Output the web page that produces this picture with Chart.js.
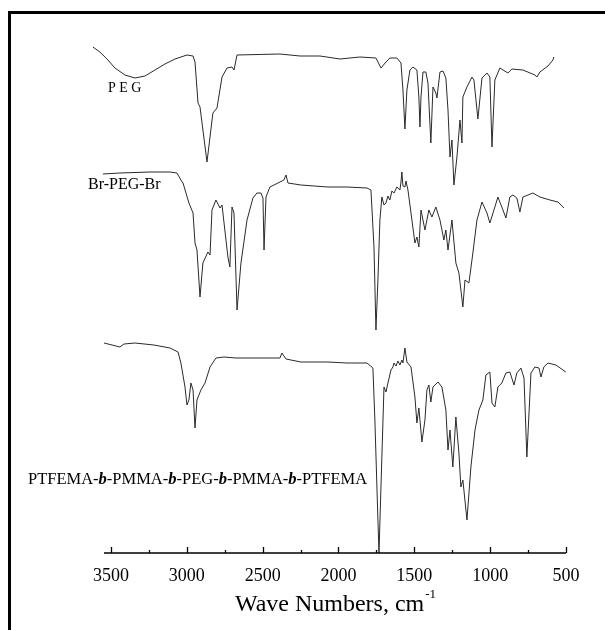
<!DOCTYPE html>
<html><head><meta charset="utf-8">
<script src="https://cdn.jsdelivr.net/npm/chart.js@4/dist/chart.umd.min.js"></script>
<style>
html,body{margin:0;padding:0;background:#fff;}
#wrap{position:relative;width:605px;height:630px;overflow:hidden;background:#fff;}
#frame{position:absolute;left:8px;top:11px;right:-10px;bottom:-10px;border-left:3px solid #000;border-top:3px solid #000;pointer-events:none;}
canvas{position:absolute;left:0;top:0;}
</style></head><body>
<div id="wrap"><canvas id="c" width="605" height="630"></canvas><div id="frame"></div></div>
<script>
// ---- data (wavenumber, cm-1 ; transmittance, arbitrary units with vertical offsets) ----
const pegWn = [3619,3573,3520,3474,3408,3342,3276,3210,3144,3078,2999,2959,2946,2926,2913,2867,2828,2801,2768,2735,2702,2689,2669,2386,2254,2122,1990,1859,1753,1720,1687,1661,1615,1588,1575,1562,1549,1529,1509,1483,1470,1463,1456,1443,1424,1410,1391,1377,1358,1351,1331,1311,1292,1278,1265,1252,1239,1219,1199,1186,1180,1153,1120,1107,1081,1054,1021,1002,988,969,936,883,857,784,705,692,672,619,586,580];
const pegT = [101.2,100.2,98.6,97,95.6,95,95.4,96.6,97.8,98.8,99.6,99.4,98.2,90,89.2,78.2,88,89,95.2,97,97.2,96.6,99.6,99.8,99.4,99.4,98.8,99.2,99,97,98.2,99,99,98,92.6,84.8,92.6,96.6,97.2,96.6,91.2,85.2,91.2,96.2,96.2,94,82,93.2,92,91,96.2,96.4,95,88.6,79.2,82.6,73.6,79.2,86.6,82,91.2,93.2,95.2,94.6,86.8,95,96,95.2,81.2,94.6,97,96,96.8,96.6,95.6,95.2,96.2,97.4,98.6,99.2];

const brWn = [3553,3441,3243,3111,3065,3039,3025,2986,2959,2946,2933,2913,2894,2861,2847,2834,2808,2781,2768,2729,2716,2702,2689,2669,2643,2603,2564,2538,2511,2498,2491,2478,2452,2399,2360,2346,2333,2248,2070,1944,1812,1786,1766,1753,1740,1727,1714,1700,1687,1674,1661,1648,1634,1615,1595,1588,1582,1575,1562,1555,1542,1522,1496,1483,1470,1456,1430,1404,1384,1358,1331,1305,1292,1278,1252,1226,1206,1180,1166,1140,1114,1087,1054,1021,1002,969,949,923,896,870,850,824,804,784,751,718,672,606,553,514];
const brT = [75.8,76,76.2,76.2,76,74.6,74,70,68,62,60.6,51.2,58,60.2,59.6,68.6,70.6,69,69.6,59.2,57.2,69.2,68,48.6,58,66.6,71,72,72,71,60.6,71.2,73.2,74,74.6,75.6,74,73.6,73.2,73.2,73,72.6,61.2,44.6,54.6,66.6,71.2,69.6,70,71.4,70.6,72.4,72,73.2,72.6,74.2,76.2,73.4,73.2,74.4,72.6,68,62,63.2,61.2,68.6,64.6,68.6,67.2,69.2,66.6,62.6,64.6,60.6,66.6,58,56,49.2,54.6,54,60,66.6,70.2,68,66,69.2,71.2,69.2,67,71.2,71.6,71,68.2,71.2,71.6,72,71.2,70.6,70.2,69];

const copWn = [3546,3493,3441,3414,3342,3217,3111,3058,3039,3012,2999,2986,2973,2959,2946,2933,2907,2880,2847,2808,2755,2676,2603,2452,2386,2373,2346,2248,2070,1944,1812,1773,1760,1740,1733,1720,1700,1687,1674,1654,1641,1634,1621,1608,1595,1582,1575,1562,1549,1522,1496,1483,1470,1450,1430,1417,1404,1391,1377,1344,1318,1292,1278,1265,1246,1226,1206,1193,1180,1153,1127,1100,1074,1048,1028,1002,988,969,949,923,896,870,843,824,797,777,758,731,705,678,665,646,619,567,501];
const copT = [42,41.6,41.2,41.8,42,41.6,41,40.2,38,33.2,29.6,30.6,34,32.6,25,30.6,32.6,34,37.2,39,39.2,39,39,39,39,40,38.8,38.2,38.2,38,38,37,26.6,6.6,0,13.2,33.2,32.2,34,36.6,37.2,38,37.4,38.4,37.6,38.6,38,41,38.2,37.2,31.2,26,29,22.2,26.6,32.6,33.6,30.2,33.2,34.2,33.2,28.6,20.6,24.6,17.2,27.2,20,13.2,14.6,6.6,17.2,24.6,28.6,30.6,35.6,36.2,30,29.2,33.2,34,36,36.2,33.6,36,37,35,19.2,36,37.2,37,35.2,37.2,38,37.6,36.2];

const seriesNames = ['PEG', 'Br-PEG-Br', 'PTFEMA-b-PMMA-b-PEG-b-PMMA-b-PTFEMA'];
const majorTicks = [3500, 3000, 2500, 2000, 1500, 1000, 500];
const minorTicks = [3250, 2750, 2250, 1750, 1250, 750];
const xMin = 500, xMax = 3546;
const axisTitle = 'Wave Numbers, cm';
const axisTitleSup = '-1';

function pts(xs, ys){ return xs.map((x,i)=>({x:x, y:ys[i]})); }

const SERIF = '"Liberation Serif", "Times New Roman", serif';

const axisPlugin = {
  id: 'axisDraw',
  afterDraw(chart){
    const ctx = chart.ctx, xs = chart.scales.x, ca = chart.chartArea;
    ctx.save();
    ctx.strokeStyle = '#000';
    ctx.lineWidth = 1.5;
    ctx.beginPath();
    ctx.moveTo(ca.left, ca.bottom);
    ctx.lineTo(ca.right, ca.bottom);
    ctx.stroke();
    ctx.lineWidth = 1.3;
    majorTicks.forEach(v=>{
      const px = Math.round(xs.getPixelForValue(v)) + 0.5;
      ctx.beginPath(); ctx.moveTo(px, ca.bottom); ctx.lineTo(px, ca.bottom - 6); ctx.stroke();
    });
    minorTicks.forEach(v=>{
      const px = Math.round(xs.getPixelForValue(v)) + 0.5;
      ctx.beginPath(); ctx.moveTo(px, ca.bottom); ctx.lineTo(px, ca.bottom - 3); ctx.stroke();
    });
    // axis title with superscript
    ctx.fillStyle = '#000';
    ctx.textBaseline = 'alphabetic';
    ctx.font = '24px ' + SERIF;
    const w1 = ctx.measureText(axisTitle).width;
    ctx.font = '13px ' + SERIF;
    const w2 = ctx.measureText(axisTitleSup).width;
    const cx = (ca.left + ca.right) / 2;
    const x0 = cx - (w1 + w2) / 2;
    ctx.font = '24px ' + SERIF;
    ctx.fillText(axisTitle, x0, 611);
    ctx.font = '13px ' + SERIF;
    ctx.fillText(axisTitleSup, x0 + w1 + 1, 598);

    // series labels
    ctx.textBaseline = 'middle';
    // PEG (letter spaced)
    ctx.font = '14px ' + SERIF;
    let x = 108;
    for (const ch of seriesNames[0]) { ctx.fillText(ch, x, 88); x += ctx.measureText(ch).width + 3.5; }
    // Br-PEG-Br
    ctx.font = '16px ' + SERIF;
    ctx.fillText(seriesNames[1], 88, 185);
    // block copolymer with bold-italic b
    const parts = seriesNames[2].split('-');
    x = 28;
    const yL = 480;
    parts.forEach((p, i) => {
      const isB = p === 'b';
      ctx.font = (isB ? 'italic bold ' : '') + '16.5px ' + SERIF;
      ctx.fillText(p, x, yL); x += ctx.measureText(p).width;
      if (i < parts.length - 1) { ctx.font = '16.5px ' + SERIF; ctx.fillText('-', x, yL); x += ctx.measureText('-').width; }
    });
    ctx.restore();
  }
};

const lineStyle = {borderColor:'#2a2a2a', borderWidth:1, pointRadius:0, tension:0, fill:false, clip:false};

new Chart(document.getElementById('c'), {
  type: 'line',
  data: {
    datasets: [
      Object.assign({label: seriesNames[0], data: pts(pegWn, pegT)}, lineStyle),
      Object.assign({label: seriesNames[1], data: pts(brWn, brT)}, lineStyle),
      Object.assign({label: seriesNames[2], data: pts(copWn, copT)}, lineStyle)
    ]
  },
  options: {
    responsive: false,
    animation: false,
    parsing: true,
    layout: {padding: {left: 104, right: 39, top: 28, bottom: 0}},
    plugins: {legend: {display: false}, tooltip: {enabled: false}, title: {display: false}},
    scales: {
      x: {
        type: 'linear', reverse: true, min: xMin, max: xMax,
        afterBuildTicks: s => { s.ticks = majorTicks.map(v => ({value: v})); },
        afterFit: s => { s.height = 77; },
        grid: {display: false, drawTicks: false},
        border: {display: false},
        ticks: {color: '#000', font: {family: SERIF, size: 18}, padding: 12, maxRotation: 0, autoSkip: false,
                callback: v => String(v)}
      },
      y: {type: 'linear', min: 0, max: 105, display: false}
    }
  },
  plugins: [axisPlugin]
});
</script>
</body></html>
